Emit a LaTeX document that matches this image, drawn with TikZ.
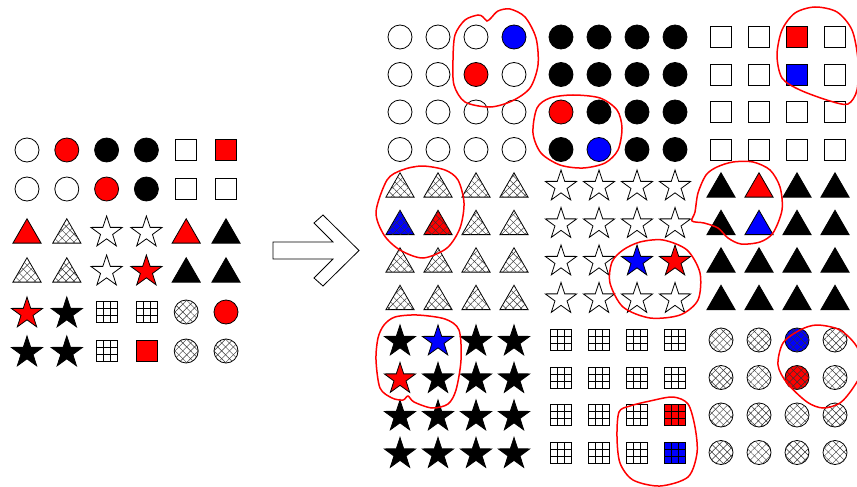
\documentclass[tikz,border=0pt]{standalone}
\usetikzlibrary{shapes.geometric, patterns.meta, calc}

\begin{document}
\begin{tikzpicture}[
		x=1pt, y=-1pt,
		sym/.style={draw, line width=0.8pt, inner sep=0pt},
		circ/.style={sym, circle, minimum size=24pt},
		sqr/.style={sym, rectangle, minimum size=21pt},
		tri/.style={sym, regular polygon, regular polygon sides=3, minimum size=32.5pt, yshift=-4pt},
		starsym/.style={sym, star, star points=5, star point ratio=2.6, minimum size=33pt, yshift=-1.5pt},
		hatch/.style={
			postaction={pattern color=black!80, pattern={Lines[angle=45, distance=5.5pt, line width=0.45pt]}},
			postaction={pattern color=black!80, pattern={Lines[angle=-45, distance=5.5pt, line width=0.45pt]}}},
		gridlines/.style={path picture={
			\foreach \f in {0.333,0.667} {
				\draw[line width=0.6pt] ($(path picture bounding box.north west)!\f!(path picture bounding box.north east)$) -- ($(path picture bounding box.south west)!\f!(path picture bounding box.south east)$);
				\draw[line width=0.6pt] ($(path picture bounding box.north west)!\f!(path picture bounding box.south west)$) -- ($(path picture bounding box.north east)!\f!(path picture bounding box.south east)$);
			}}},
		wcirc/.style={circ, fill=white},
		rcirc/.style={circ, fill=red},
		ucirc/.style={circ, fill=blue},
		bcirc/.style={circ, fill=black},
		hcirc/.style={circ, fill=white, hatch},
		rhcirc/.style={circ, fill=red, hatch},
		uhcirc/.style={circ, fill=blue, hatch},
		wsq/.style={sqr, fill=white},
		rsq/.style={sqr, fill=red},
		usq/.style={sqr, fill=blue},
		gsq/.style={sqr, fill=white, gridlines},
		rgsq/.style={sqr, fill=red, gridlines},
		ugsq/.style={sqr, fill=blue, gridlines},
		htri/.style={tri, fill=white, hatch},
		rhtri/.style={tri, fill=red, hatch},
		uhtri/.style={tri, fill=blue, hatch},
		rtri/.style={tri, fill=red},
		btri/.style={tri, fill=black},
		utri/.style={tri, fill=blue},
		wstar/.style={starsym, fill=white},
		rstar/.style={starsym, fill=red},
		bstar/.style={starsym, fill=black},
		ustar/.style={starsym, fill=blue},
		bigarrow/.style={draw, line width=0.8pt, line join=miter},
		lasso/.style={draw=red, line width=1.5pt}
	]
	\useasboundingbox (0,0) rectangle (857,487);

	\foreach \row [count=\rw] in {
		{wcirc,rcirc,bcirc,bcirc,wsq,rsq},
		{wcirc,wcirc,rcirc,bcirc,wsq,wsq},
		{rtri,htri,wstar,wstar,rtri,btri},
		{htri,htri,wstar,rstar,btri,btri},
		{rstar,bstar,gsq,gsq,hcirc,rcirc},
		{bstar,bstar,gsq,rsq,hcirc,hcirc}}
		\foreach \s [count=\cl] in \row
			\node[\s] (l\rw\cl) at ({27+39.8*(\cl-1)}, {150+39*(\rw-1)+3*int((\rw-1)/2)}) {};

	\draw[bigarrow] (273,242) -- (333,242) -- (314,223) -- (323,215) -- (359,250.5) -- (323,286) -- (314,278) -- (333,259) -- (273,259) -- cycle;

	\foreach \R/\B/\base/\rA/\cA/\sA/\rB/\cB/\sB in {
		1/1/wcirc/1/4/ucirc/2/3/rcirc,
		1/2/bcirc/3/1/rcirc/4/2/ucirc,
		1/3/wsq/1/3/rsq/2/3/usq,
		2/1/htri/2/1/uhtri/2/2/rhtri,
		2/2/wstar/3/3/ustar/3/4/rstar,
		2/3/btri/1/2/rtri/2/2/utri,
		3/1/bstar/1/2/ustar/2/1/rstar,
		3/2/gsq/3/4/rgsq/4/4/ugsq,
		3/3/hcirc/1/3/uhcirc/2/3/rhcirc} {
		\pgfmathsetmacro\ox{{400,561,721}[\B-1]}
		\pgfmathsetmacro\oy{{37,185,340}[\R-1]}
		\foreach \rw in {1,...,4} {
			\foreach \cl in {1,...,4} {
				\edef\sym{\base}
				\ifnum\rw=\rA \ifnum\cl=\cA \edef\sym{\sA}\fi\fi
				\ifnum\rw=\rB \ifnum\cl=\cB \edef\sym{\sB}\fi\fi
				\node[\sym] (b\R\B-\rw\cl) at ({\ox+38*(\cl-1)}, {\oy+37.5*(\rw-1)}) {};
			}
		}
	}

	\draw[lasso] plot[smooth cycle] coordinates {(453,60) (455,35) (465,20) (478,15) (483,17) (487,21) (491,18) (498,11) (510,9) (525,17) (536,38) (538,65) (530,88) (512,101) (490,107) (465,102) (454,85)};
	\draw[lasso] plot[smooth cycle] coordinates {(537,108) (550,98) (573,95) (600,98) (617,110) (622,128) (618,150) (605,163) (583,168) (560,165) (541,153) (533,133)};
	\draw[lasso] plot[smooth cycle] coordinates {(777,55) (782,30) (795,13) (815,7) (837,12) (852,30) (858,60) (857,90) (848,104) (830,101) (800,90) (782,78)};
	\draw[lasso] plot[smooth cycle] coordinates {(387,180) (402,170) (422,166) (445,170) (458,180) (464,203) (460,228) (447,248) (423,258) (400,250) (384,235) (376,212)};
	\draw[lasso] plot[smooth cycle] coordinates {(692,221) (704,223) (718,228) (728,238) (741,244) (760,242) (773,233) (782,210) (780,187) (770,170) (753,162) (733,162) (717,167) (706,175) (698,193) (695,212)};
	\draw[lasso] plot[smooth cycle] coordinates {(623,250) (640,242) (663,240) (687,250) (700,273) (698,300) (680,315) (650,318) (623,307) (610,283) (612,262)};
	\draw[lasso] plot[smooth cycle] coordinates {(384,325) (395,317) (417,315) (445,319) (459,330) (461,360) (456,390) (448,404) (432,408) (414,402) (408,396) (403,400) (392,398) (380,388) (376,360) (378,338)};
	\draw[lasso] plot[smooth cycle] coordinates {(630,406) (650,401) (673,397) (688,404) (695,427) (697,453) (688,477) (660,486) (633,480) (620,463) (617,437) (619,412)};
	\draw[lasso] plot[smooth cycle] coordinates {(783,343) (800,330) (817,325) (840,330) (857,347) (862,370) (853,388) (840,403) (823,408) (807,402) (787,383) (778,365)};
\end{tikzpicture}
\end{document}
